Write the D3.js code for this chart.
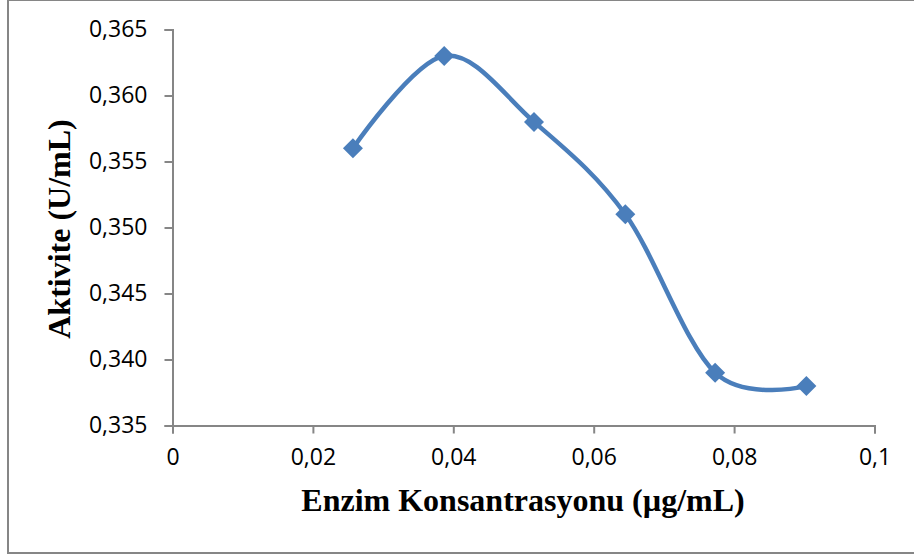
<!DOCTYPE html>
<html>
<head>
<meta charset="utf-8">
<script src="https://cdn.jsdelivr.net/npm/d3@7"></script>
<style>
  body { margin: 0; background: #fff; }
  svg { display: block; }
</style>
</head>
<body>
<div id="chart"></div>
<script>
// data
var concentrations = [0.0257, 0.0387, 0.0515, 0.0645, 0.0773, 0.0903];
var activities = [0.356, 0.363, 0.358, 0.351, 0.339, 0.338];
var xTicks = [0, 0.02, 0.04, 0.06, 0.08, 0.1];
var yTicks = [0.335, 0.340, 0.345, 0.350, 0.355, 0.360, 0.365];
var xTitle = "Enzim Konsantrasyonu (µg/mL)";
var yTitle = "Aktivite (U/mL)";

var width = 914, height = 556;
var axisColor = "#868686";
var lineColor = "#4A7EBB";

var svg = d3.select("#chart").append("svg")
    .attr("width", width)
    .attr("height", height);

// chart frame
svg.append("rect")
    .attr("x", 8)
    .attr("y", 0)
    .attr("width", 930)
    .attr("height", 553)
    .style("fill", "none")
    .style("stroke", axisColor)
    .style("stroke-width", 2);

var x = d3.scaleLinear().domain([0, 0.1]).range([172.5, 874.5]);
var y = d3.scaleLinear().domain([0.335, 0.365]).range([425.5, 29.5]);

var comma = function (d, digits) {
    return d3.format("." + digits + "f")(d).replace(".", ",");
};

var xAxis = svg.append("g")
    .attr("transform", "translate(0," + y(0.335) + ")")
    .call(d3.axisBottom(x).tickValues(xTicks).tickSize(8).tickPadding(15)
        .tickFormat(function (d) { return d === 0 ? "0" : (d === 0.1 ? "0,1" : comma(d, 2)); }));

var yAxis = svg.append("g")
    .attr("transform", "translate(" + x(0) + ",0)")
    .call(d3.axisLeft(y).tickValues(yTicks).tickSize(8).tickPadding(17)
        .tickFormat(function (d) { return comma(d, 3); }));

[xAxis, yAxis].forEach(function (g) {
    g.select(".domain").style("stroke", axisColor).style("stroke-width", 2);
    g.selectAll(".tick line").style("stroke", axisColor).style("stroke-width", 2);
    g.selectAll(".tick text")
        .style("font-family", "'Open Sans', sans-serif")
        .style("font-size", "23px")
        .style("fill", "#000");
});

// smooth line like the spreadsheet "smoothed line" option
var points = concentrations.map(function (c, i) { return [c, activities[i]]; });

var line = d3.line()
    .x(function (d) { return x(d[0]); })
    .y(function (d) { return y(d[1]); })
    .curve(d3.curveCardinal.tension(0));

svg.append("path")
    .datum(points)
    .attr("d", line)
    .style("fill", "none")
    .style("stroke", lineColor)
    .style("stroke-width", 4.5);

var r = 10;
svg.selectAll(".marker")
    .data(points)
    .enter().append("path")
    .attr("class", "marker")
    .attr("transform", function (d) { return "translate(" + x(d[0]) + "," + y(d[1]) + ")"; })
    .attr("d", "M0," + (-r) + "L" + r + ",0L0," + r + "L" + (-r) + ",0Z")
    .style("fill", lineColor);

// axis titles
svg.append("text")
    .attr("x", 523)
    .attr("y", 511)
    .attr("text-anchor", "middle")
    .style("font-family", "'Liberation Serif', 'Times New Roman', serif")
    .style("font-weight", "bold")
    .style("font-size", "32px")
    .text(xTitle);

svg.append("text")
    .attr("transform", "translate(70,229) rotate(-90)")
    .attr("text-anchor", "middle")
    .style("font-family", "'Liberation Serif', 'Times New Roman', serif")
    .style("font-weight", "bold")
    .style("font-size", "32px")
    .text(yTitle);
</script>
</body>
</html>
